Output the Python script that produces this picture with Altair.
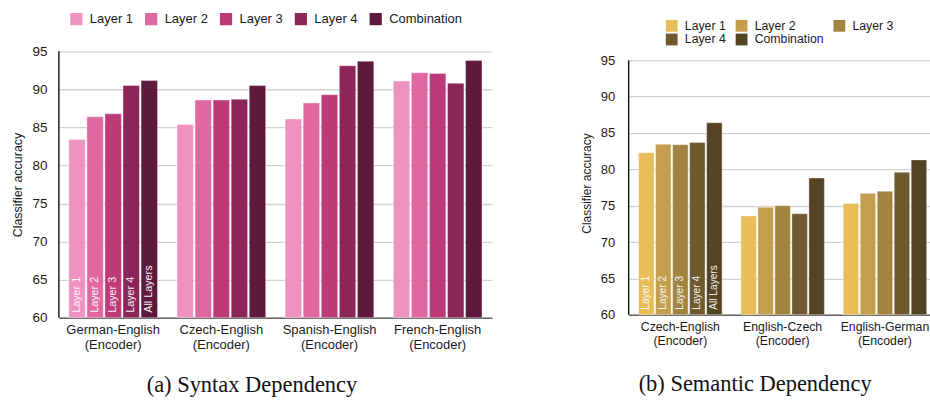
import altair as alt
import pandas as pd

# Probing-classifier accuracy per encoder layer
layers = ["Layer 1", "Layer 2", "Layer 3", "Layer 4", "Combination"]
bar_tags = ["Layer 1", "Layer 2", "Layer 3", "Layer 4", "All Layers"]

syn_pairs = ["German-English", "Czech-English", "Spanish-English", "French-English"]
syn_l1 = [83.4, 85.4, 86.1, 91.1]
syn_l2 = [86.4, 88.6, 88.2, 92.2]
syn_l3 = [86.8, 88.6, 89.3, 92.1]
syn_l4 = [90.5, 88.7, 93.1, 90.8]
syn_all = [91.15, 90.5, 93.7, 93.8]

sem_pairs = ["Czech-English", "English-Czech", "English-German"]
sem_l1 = [82.3, 73.6, 75.3]
sem_l2 = [83.45, 74.8, 76.7]
sem_l3 = [83.4, 75.0, 77.0]
sem_l4 = [83.7, 73.9, 79.6]
sem_all = [86.4, 78.8, 81.3]

syn_colors = ["#F092C1", "#DF68A3", "#BD3A79", "#8C2559", "#5E1A3D"]
sem_colors = ["#E7BD5A", "#C39E4E", "#A2843F", "#6F5A2F", "#544423"]

y_ticks = [60, 65, 70, 75, 80, 85, 90, 95]
FONT = "Liberation Sans"


def build_table(pairs, series):
    rows = []
    for li, (layer, vals) in enumerate(zip(layers, series)):
        for pi, (pair, v) in enumerate(zip(pairs, vals)):
            rows.append({
                "pair": pair,
                "layer": layer,
                "acc": v,
                "base": 60,
                "tag": bar_tags[li] if pi == 0 else "",
            })
    return pd.DataFrame(rows)


def panel(df, pairs, colors, caption, cap_offset, width, height, y_top, xpad,
          font_x, font_y, label_pad, tag_size, legend, band_align):
    x = alt.X("pair:N", sort=pairs, title=None,
              scale=alt.Scale(paddingInner=xpad[0], paddingOuter=xpad[1],
                              align=band_align),
              axis=alt.Axis(labelAngle=0, ticks=False, labelPadding=6,
                            labelFont=FONT, labelFontSize=font_x,
                            labelColor="#1a1a1a", labelLineHeight=font_x + 1.6,
                            labelExpr="[datum.label, '(Encoder)']",
                            domainColor="#666666", domainWidth=1.6,
                            grid=False))
    xo = alt.XOffset("layer:N", sort=layers,
                     scale=alt.Scale(paddingInner=0.09, paddingOuter=0))
    y_scale = alt.Scale(domain=[60, y_top], nice=False, zero=False)
    y_axis = alt.Axis(values=y_ticks, ticks=False, labelOverlap=False,
                      labelPadding=label_pad, labelFont=FONT,
                      labelFontSize=font_y + 0.5, labelColor="#1a1a1a",
                      titleFont=FONT, titleFontSize=font_y - 0.5,
                      titleFontWeight="normal", titleColor="#1a1a1a",
                      titlePadding=7, domain=False,
                      gridColor="#d2d2d2", gridWidth=1.3)
    bars = alt.Chart(df).mark_bar(stroke="white", strokeWidth=0.6,
                                  strokeOpacity=0.6).encode(
        x=x, xOffset=xo,
        y=alt.Y("acc:Q", title="Classifier accuracy", scale=y_scale,
                axis=y_axis),
        y2="base:Q",
        color=alt.Color("layer:N", sort=layers,
                        scale=alt.Scale(domain=layers, range=colors),
                        legend=legend),
    )
    tags = alt.Chart(df).transform_filter("datum.tag != ''").mark_text(
        angle=270, align="left", baseline="middle", dx=5,
        color="white", fontSize=tag_size, font=FONT, opacity=0.92,
    ).encode(
        x=x, xOffset=xo,
        y=alt.Y("base:Q", title="Classifier accuracy", scale=y_scale,
                axis=y_axis),
        text="tag:N",
    )
    # vertical axis line spanning the tick range only
    spine = alt.Chart(pd.DataFrame({"lo": [min(y_ticks)], "hi": [max(y_ticks)]})
                      ).mark_rule(color="#111111", strokeWidth=1.4).encode(
        x=alt.value(0),
        y=alt.Y("lo:Q", title="Classifier accuracy", scale=y_scale,
                axis=y_axis),
        y2="hi:Q",
    )
    return alt.layer(bars, tags, spine).properties(
        width=width, height=height,
        title=alt.TitleParams(caption, orient="bottom", font="Liberation Serif",
                              fontSize=22.5, fontWeight="normal",
                              color="#111111", offset=cap_offset,
                              anchor="middle", frame="bounds"),
    )


syn_df = build_table(syn_pairs, [syn_l1, syn_l2, syn_l3, syn_l4, syn_all])
sem_df = build_table(sem_pairs, [sem_l1, sem_l2, sem_l3, sem_l4, sem_all])

syn_legend = alt.Legend(orient="none", legendX=11, legendY=-39,
                        direction="horizontal", columns=5, gridAlign="each",
                        title=None, symbolType="square", symbolSize=150,
                        symbolStrokeWidth=0, labelFont=FONT,
                        labelFontSize=13, labelColor="#1a1a1a",
                        labelOffset=7, columnPadding=11, padding=0)
sem_legend = alt.Legend(orient="none", legendX=37, legendY=-32,
                        direction="horizontal", columns=3, gridAlign="each",
                        title=None, symbolType="square", symbolSize=140,
                        symbolStrokeWidth=0, labelFont=FONT,
                        labelFontSize=12.3, labelColor="#1a1a1a",
                        labelOffset=7, columnPadding=9, rowPadding=1,
                        padding=0)

# the semantic panel's plot area reaches a little above 95 so that its
# top gridline sits lower than the syntax panel's
left = panel(syn_df, syn_pairs, syn_colors, "(a) Syntax Dependency", 23,
             434, 267, 95, (0.18, 0.092), 13, 13, 12, 10.8, syn_legend, 0.5)
right = panel(sem_df, sem_pairs, sem_colors, "(b) Semantic Dependency", 26,
              302, 264, 96.235, (0.184, 0.065), 12.3, 12.5, 14, 10.2,
              sem_legend, 0.75)

chart = alt.hconcat(left, right, spacing=88).resolve_scale(
    color="independent", x="independent", y="independent",
    xOffset="independent",
).properties(
    padding={"left": 11, "top": 12, "right": 0, "bottom": 0},
    background="white",
).configure_view(strokeWidth=0)

chart.save("out.html", embed_options={"renderer": "svg", "actions": False})
